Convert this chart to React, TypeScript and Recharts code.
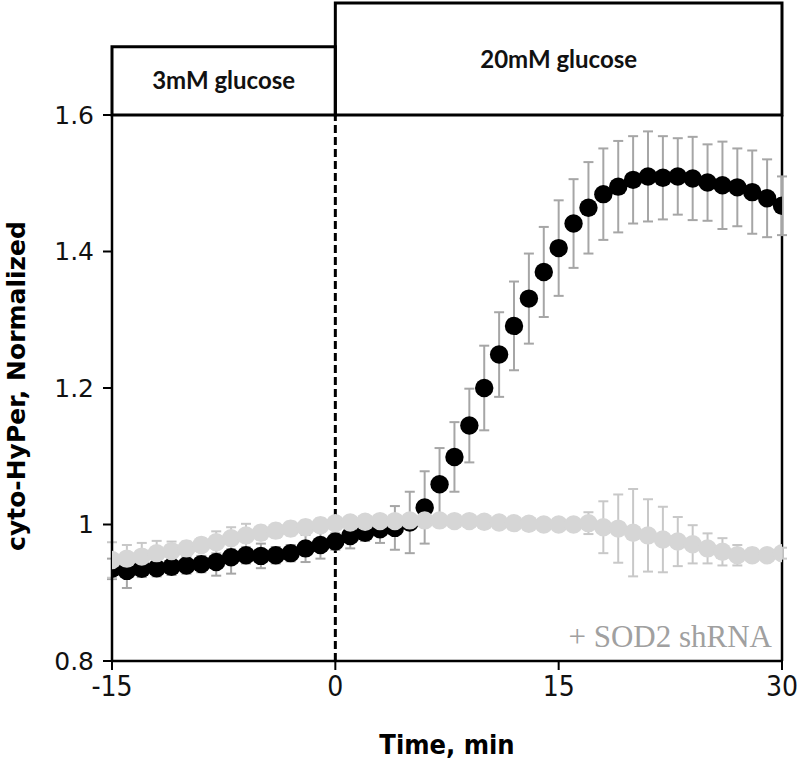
import React from 'react'
import {
  ScatterChart,
  Scatter,
  XAxis,
  YAxis,
  ErrorBar,
  ReferenceArea,
  ReferenceLine,
  Label,
} from 'recharts'

// time points, min
const minutes = [
  -15, -14, -13, -12, -11, -10, -9, -8, -7, -6, -5, -4, -3, -2, -1, 0, 1, 2, 3, 4, 5, 6, 7,
  8, 9, 10, 11, 12, 13, 14, 15, 16, 17, 18, 19, 20, 21, 22, 23, 24, 25, 26, 27, 28, 29, 30,
]

// control cells (black)
const controlMean = [
  0.935, 0.932, 0.935, 0.936, 0.938, 0.94, 0.942, 0.945, 0.952, 0.955, 0.954, 0.955, 0.958,
  0.965, 0.97, 0.975, 0.983, 0.988, 0.993, 0.995, 1.003, 1.025, 1.059, 1.099, 1.145, 1.2,
  1.249, 1.291, 1.331, 1.37, 1.405, 1.441, 1.464, 1.484, 1.495, 1.505, 1.51, 1.508, 1.51,
  1.507, 1.501, 1.497, 1.494, 1.487, 1.478, 1.467,
]
const controlErr = [
  0.015, 0.025, 0.012, 0.012, 0.012, 0.012, 0.012, 0.02, 0.024, 0.012, 0.018, 0.012, 0.012,
  0.02, 0.02, 0.012, 0.018, 0.012, 0.02, 0.032, 0.045, 0.053, 0.053, 0.051, 0.054, 0.062,
  0.062, 0.065, 0.066, 0.066, 0.07, 0.065, 0.067, 0.067, 0.067, 0.064, 0.066, 0.061, 0.056,
  0.061, 0.056, 0.064, 0.057, 0.061, 0.057, 0.043,
]

// + SOD2 shRNA (grey)
const shrnaMean = [
  0.948, 0.95, 0.953, 0.958, 0.961, 0.965, 0.97, 0.974, 0.98, 0.984, 0.988, 0.991, 0.994,
  0.996, 0.999, 1.002, 1.003, 1.004, 1.005, 1.005, 1.006, 1.006, 1.006, 1.005, 1.005, 1.004,
  1.003, 1.002, 1.001, 1.0, 1.0, 1.0, 1.002, 0.996, 0.994, 0.988, 0.984, 0.978, 0.975, 0.971,
  0.965, 0.96, 0.955, 0.955, 0.955, 0.958,
]
const shrnaErr = [
  0.026, 0.02, 0.02, 0.018, 0.014, 0.01, 0.01, 0.016, 0.016, 0.017, 0.01, 0.01, 0.01, 0.01,
  0.01, 0.008, 0.008, 0.008, 0.008, 0.008, 0.008, 0.008, 0.008, 0.008, 0.008, 0.008, 0.008,
  0.008, 0.008, 0.008, 0.008, 0.008, 0.016, 0.038, 0.05, 0.064, 0.053, 0.048, 0.036, 0.028,
  0.022, 0.02, 0.015, 0.01, 0.008, 0.008,
]

const xTicks = [-15, 0, 15, 30]
const yTicks = [0.8, 1, 1.2, 1.4, 1.6]

const controlData = minutes.map((t, i) => ({ t, v: controlMean[i], err: controlErr[i] }))
const shrnaData = minutes.map((t, i) => ({ t, v: shrnaMean[i], err: shrnaErr[i] }))

const dot = (fill: string) => (props: any) =>
  <circle cx={props.cx} cy={props.cy} r={9.2} fill={fill} />

const boxLabel = {
  fontFamily: 'Lato, "Open Sans", sans-serif',
  fontSize: 24,
  fontWeight: 700,
  fill: '#111',
}

export default function App() {
  return (
    <div style={{ position: 'absolute', left: 0, top: 0, width: 800, height: 765, background: '#fff' }}>
      <ScatterChart
        width={800}
        height={765}
        margin={{ top: 115, right: 18, left: 22, bottom: 44 }}
      >
        <XAxis
          type="number"
          dataKey="t"
          domain={[-15, 30]}
          ticks={xTicks}
          interval={0}
          allowDataOverflow
          axisLine={{ stroke: '#000', strokeWidth: 2.5 }}
          tickLine={{ stroke: '#000', strokeWidth: 2 }}
          tickSize={9}
          tickMargin={6}
          height={60}
          tick={{ fontSize: 28, fill: '#111', fontFamily: '"Liberation Sans Narrow", "DejaVu Sans Condensed", sans-serif' }}
        />
        <YAxis
          type="number"
          dataKey="v"
          domain={[0.8, 1.6]}
          ticks={yTicks}
          interval={0}
          allowDataOverflow
          width={90}
          axisLine={{ stroke: '#000', strokeWidth: 2.5 }}
          tickLine={{ stroke: '#000', strokeWidth: 2 }}
          tickSize={9}
          tickMargin={9}
          tickFormatter={(v: number) => (v === 1 ? '1' : v.toFixed(1))}
          tick={{ fontSize: 25, fill: '#111', fontFamily: '"DejaVu Sans", Verdana, sans-serif' }}
        >
          <Label
            content={() => (
              <text
                x={16}
                y={386}
                transform="rotate(-90 16 386)"
                textAnchor="middle"
                dominantBaseline="central"
                fontFamily='"DejaVu Sans", Verdana, sans-serif'
                fontWeight={700}
                fontSize={25}
                fill="#000"
              >
                cyto-HyPer, Normalized
              </text>
            )}
          />
        </YAxis>

        <ReferenceArea
          x1={-15}
          x2={0}
          y1={1.6}
          y2={1.7}
          ifOverflow="visible"
          fill="none"
          stroke="#000"
          strokeWidth={3}
          label={{ value: '3mM glucose', position: 'center', ...boxLabel }}
        />
        <ReferenceArea
          x1={0}
          x2={30}
          y1={1.6}
          y2={1.764}
          ifOverflow="visible"
          fill="none"
          stroke="#000"
          strokeWidth={3}
          label={{ value: '20mM glucose', position: 'center', ...boxLabel }}
        />
        <ReferenceLine x={0} stroke="#000" strokeWidth={3} strokeDasharray="8 4" />
        <ReferenceLine x={30} stroke="#000" strokeWidth={2.5} />

        <Scatter data={controlData} shape={dot('#000')} isAnimationActive={false}>
          <ErrorBar dataKey="err" direction="y" width={5} stroke="#a6a6a6" strokeWidth={2} />
        </Scatter>
        <Scatter data={shrnaData} shape={dot('#d6d6d6')} isAnimationActive={false}>
          <ErrorBar dataKey="err" direction="y" width={5} stroke="#c8c8c8" strokeWidth={2} />
        </Scatter>
      </ScatterChart>
      <div
        style={{
          position: 'absolute',
          right: 28,
          top: 617,
          fontFamily: '"Liberation Serif", "DejaVu Serif", serif',
          fontSize: 31,
          color: '#a0a0a0',
          lineHeight: '40px',
          whiteSpace: 'nowrap',
        }}
      >
        + SOD2 shRNA
      </div>
      <div
        style={{
          position: 'absolute',
          left: 112,
          width: 670,
          top: 728,
          textAlign: 'center',
          fontFamily: '"DejaVu Sans Condensed", "DejaVu Sans", sans-serif',
          fontWeight: 700,
          fontSize: 27,
          lineHeight: '34px',
          color: '#000',
        }}
      >
        Time, min
      </div>
    </div>
  )
}
